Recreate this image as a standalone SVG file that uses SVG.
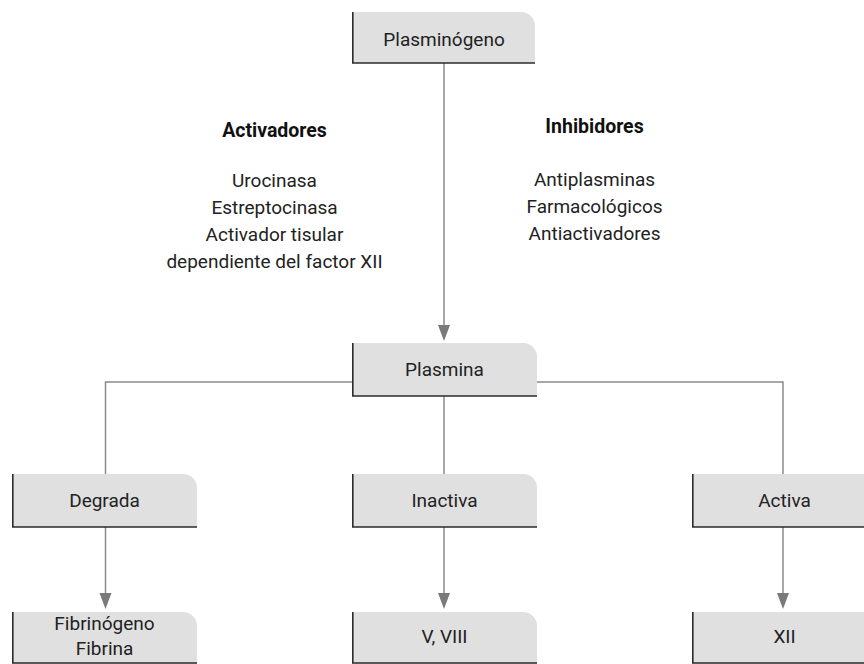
<svg xmlns="http://www.w3.org/2000/svg" width="864" height="664" viewBox="0 0 864 664">
  <defs>
    <style>
      .box { fill: #e0e0e0; }
      .edge { fill: none; stroke: #2b2b2b; stroke-width: 1.6; }
      .lbl { font-family: Roboto, "Liberation Sans", sans-serif; font-size: 19px; fill: #222; text-anchor: middle; }
      .hd { font-family: Roboto, "Liberation Sans", sans-serif; font-size: 19.5px; font-weight: bold; fill: #111; text-anchor: middle; }
      .conn { fill: none; stroke: #8a8a8a; stroke-width: 1.5; }
      .head { fill: #7a7a7a; }
    </style>
  </defs>
  <rect width="864" height="664" fill="#ffffff"/>

  <!-- connectors -->
  <g id="connectors">
    <line class="conn" x1="444" y1="63" x2="444" y2="326"/>
    <path class="conn" d="M352,382 H105.5 V474"/>
    <path class="conn" d="M537,382 H783 V474"/>
    <line class="conn" x1="444" y1="396" x2="444" y2="474"/>
    <line class="conn" x1="105.5" y1="527" x2="105.5" y2="594"/>
    <line class="conn" x1="444" y1="527" x2="444" y2="594"/>
    <line class="conn" x1="783" y1="527" x2="783" y2="594"/>
    <path class="head" d="M438,325 L450,325 L444,341 Z"/>
    <path class="head" d="M99.5,593 L111.5,593 L105.5,609 Z"/>
    <path class="head" d="M438,593 L450,593 L444,609 Z"/>
    <path class="head" d="M777,593 L789,593 L783,609 Z"/>
  </g>

  <!-- nodes -->
  <g id="plasminogeno">
    <path class="box" d="M352,12 H521 A14,14 0 0 1 535,26 V63 H352 Z"/>
    <path class="edge" d="M352.8,12 V63 H535"/>
    <text class="lbl" x="444" y="46">Plasminógeno</text>
  </g>

  <g id="activadores">
    <text class="hd" x="274.5" y="137">Activadores</text>
    <text class="lbl" x="274.5" y="187">Urocinasa</text>
    <text class="lbl" x="274.5" y="214">Estreptocinasa</text>
    <text class="lbl" x="274.5" y="241">Activador tisular</text>
    <text class="lbl" x="274.5" y="268">dependiente del factor XII</text>
  </g>

  <g id="inhibidores">
    <text class="hd" x="594.5" y="133">Inhibidores</text>
    <text class="lbl" x="594.5" y="186">Antiplasminas</text>
    <text class="lbl" x="594.5" y="213">Farmacológicos</text>
    <text class="lbl" x="594.5" y="240">Antiactivadores</text>
  </g>

  <g id="plasmina">
    <path class="box" d="M352,343 H523 A14,14 0 0 1 537,357 V396 H352 Z"/>
    <path class="edge" d="M352.8,343 V396 H537"/>
    <text class="lbl" x="444.5" y="376">Plasmina</text>
  </g>

  <g id="degrada">
    <path class="box" d="M12,474 H183 A14,14 0 0 1 197,488 V527 H12 Z"/>
    <path class="edge" d="M12.8,474 V527 H197"/>
    <text class="lbl" x="104.5" y="507">Degrada</text>
  </g>

  <g id="inactiva">
    <path class="box" d="M352,474 H523 A14,14 0 0 1 537,488 V527 H352 Z"/>
    <path class="edge" d="M352.8,474 V527 H537"/>
    <text class="lbl" x="444.5" y="507">Inactiva</text>
  </g>

  <g id="activa">
    <path class="box" d="M692,474 H863 A14,14 0 0 1 877,488 V527 H692 Z"/>
    <path class="edge" d="M692.8,474 V527 H877"/>
    <text class="lbl" x="784.5" y="507">Activa</text>
  </g>

  <g id="fibrinogeno">
    <path class="box" d="M12,612 H183 A14,14 0 0 1 197,626 V664 H12 Z"/>
    <path class="edge" d="M12.8,612 V663 H197"/>
    <text class="lbl" x="104.5" y="630">Fibrinógeno</text>
    <text class="lbl" x="104.5" y="655">Fibrina</text>
  </g>

  <g id="v-viii">
    <path class="box" d="M352,612 H523 A14,14 0 0 1 537,626 V664 H352 Z"/>
    <path class="edge" d="M352.8,612 V663 H537"/>
    <text class="lbl" x="444.5" y="643">V, VIII</text>
  </g>

  <g id="xii">
    <path class="box" d="M692,612 H863 A14,14 0 0 1 877,626 V664 H692 Z"/>
    <path class="edge" d="M692.8,612 V663 H877"/>
    <text class="lbl" x="784.5" y="643">XII</text>
  </g>
</svg>
